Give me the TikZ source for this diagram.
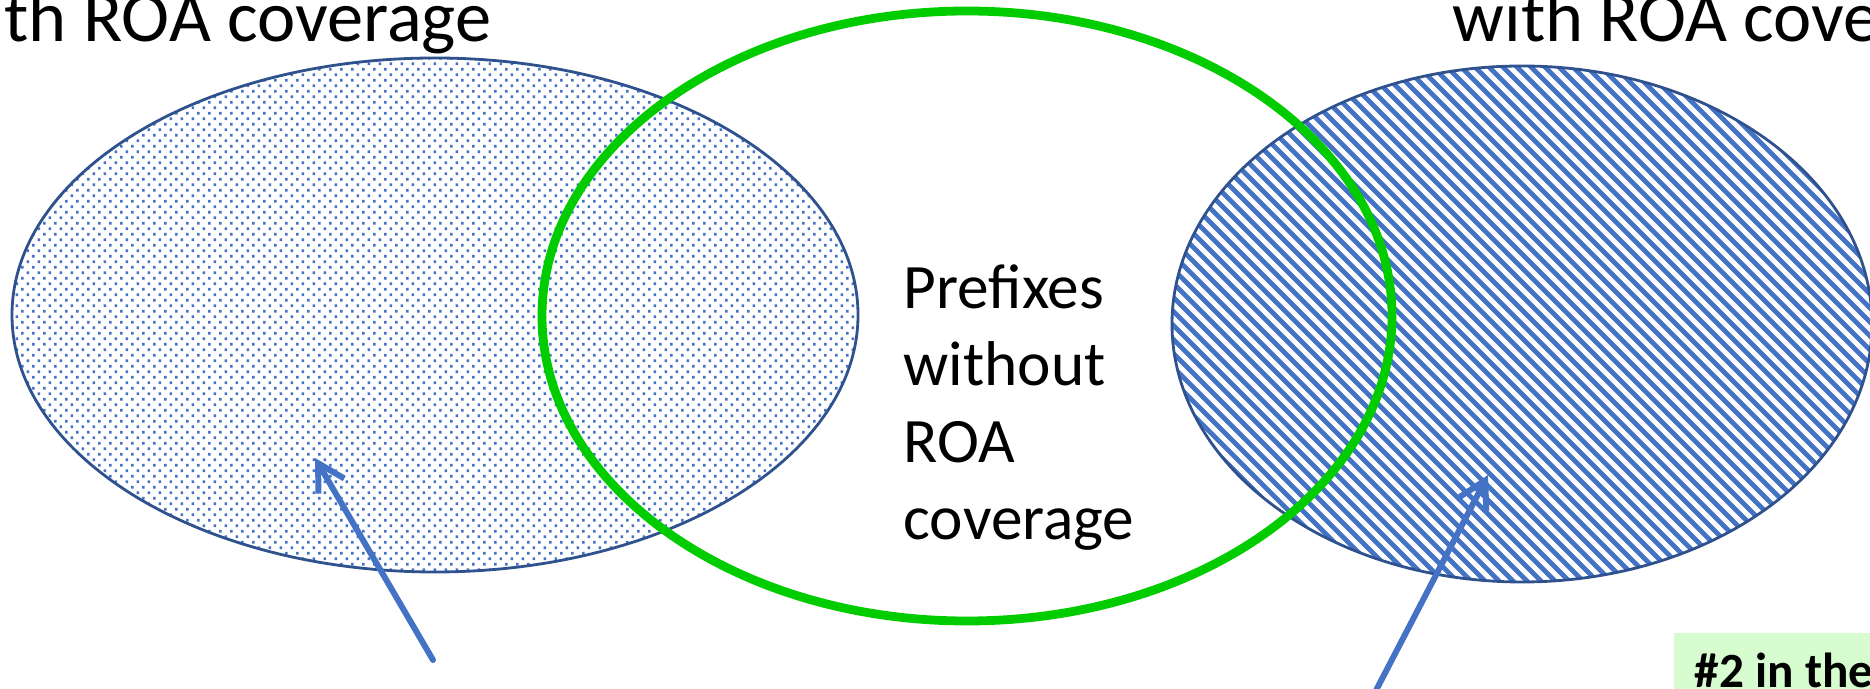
\documentclass[tikz,border=0pt]{standalone}
\usepackage{fontspec}
\setmainfont{Carlito}
\usetikzlibrary{arrows.meta}
\definecolor{edgeblue}{HTML}{2F528F}
\definecolor{fillblue}{HTML}{4472C4}
\definecolor{vgreen}{HTML}{00CC00}
\definecolor{notegreen}{HTML}{D6FCD0}
\begin{document}
\begin{tikzpicture}[x=0.01cm,y=-0.01cm,
  setoutline/.style={draw=edgeblue, line width=0.8pt},
  hatchline/.style={draw=fillblue, line width=1.35pt},
  greenset/.style={draw=vgreen, line width=2.5pt},
  pointer/.style={draw=fillblue, line width=1.7pt, line cap=round, -{Straight Barb[length=7.5pt,width=8.5pt]}},
  heading/.style={inner sep=0pt, font=\fontsize{20.6}{24}\selectfont},
  bodytext/.style={inner sep=0pt, align=left, font=\fontsize{18}{21.9}\selectfont},
  notetext/.style={inner sep=0pt, font=\fontsize{14}{16}\selectfont\bfseries}
]
\useasboundingbox (0,0) rectangle (1870,689);
\clip (0,0) rectangle (1870,689);

% left set: fine staggered dots, one row per path
\begin{scope}
  \clip (435,315) ellipse [x radius=423, y radius=257];
  \foreach \j in {0,...,94} {
    \pgfmathsetmacro{\rowy}{57+5.5*\j}
    \pgfmathsetmacro{\rowx}{10+5.5*mod(\j,2)}
    \fill[fillblue] \foreach \i in {0,...,78} {
      (\rowx+11*\i, \rowy) rectangle ++(2.6,2.6)
    };
  }
\end{scope}
\draw[setoutline] (435,315) ellipse [x radius=423, y radius=257];

% right set: diagonal hatching
\begin{scope}
  \clip (1522,324) ellipse [x radius=350, y radius=258];
  \foreach \c in {400,414,...,1900} {
    \draw[hatchline] (\c-100,-100) -- (\c+800,800);
  }
\end{scope}
\draw[setoutline] (1522,324) ellipse [x radius=350, y radius=258];

% the green set drawn over them
\draw[greenset] (967,316) ellipse [x radius=425, y radius=305];

% set captions
\node[heading, anchor=base east] (capL) at (492,42) {th ROA coverage};
\node[heading, anchor=base west] (capR) at (1452,42) {with ROA cove};

\node[bodytext, anchor=base west] (mid) at (903,540) {Prefixes\\without\\ROA\\coverage};

% note box in the corner
\fill[notegreen] (1674,633) rectangle (1880,700);
\node[notetext, anchor=base west] (note) at (1694,688) {\#2 in the};

% pointers into the shaded sets
\coordinate (tailL) at (433,660);
\coordinate (tipL) at (315,458);
\coordinate (tailR) at (1371,700);
\coordinate (tipR) at (1488,475);
\draw[pointer] (tailL) -- (tipL);
\draw[pointer] (tailR) -- (tipR);
\end{tikzpicture}
\end{document}
